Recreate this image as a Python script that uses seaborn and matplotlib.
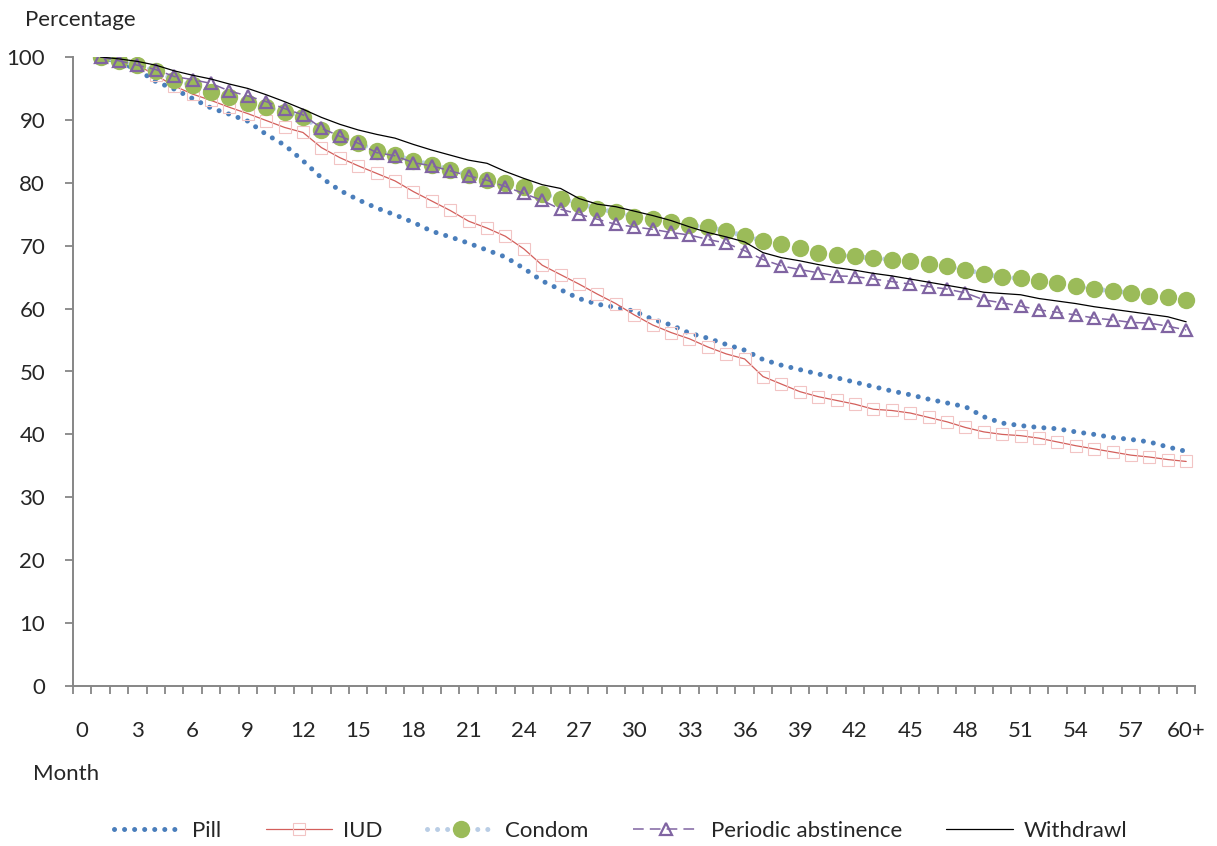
import numpy as np
import pandas as pd
import matplotlib
matplotlib.use("Agg")
import matplotlib.pyplot as plt
import seaborn as sns

months = list(range(1, 61))
tick_positions = list(range(0, 61, 3))
tick_labels = [str(t) for t in range(0, 60, 3)] + ["60+"]

pill = [100, 99.2, 98.0, 96.1, 94.9, 93.4, 91.9, 90.9, 89.8, 87.7,
        86.0, 83.5, 80.8, 78.8, 77.3, 76.0, 74.9, 73.7, 72.3, 71.4,
        70.4, 69.3, 68.2, 66.4, 64.4, 63.0, 61.6, 60.7, 60.2, 59.6,
        58.3, 57.4, 56.1, 55.3, 54.3, 53.4, 51.9, 51.0, 50.3, 49.6,
        49.0, 48.3, 47.6, 46.9, 46.3, 45.6, 45.0, 44.4, 42.8, 41.8,
        41.4, 41.1, 40.9, 40.4, 40.0, 39.5, 39.2, 38.8, 38.0, 37.3]
iud = [100, 99.5, 98.7, 97.1, 95.4, 94.1, 93.1, 92.0, 91.0, 89.9,
       88.8, 88.0, 85.6, 84.0, 82.7, 81.5, 80.3, 78.6, 77.1, 75.6,
       73.9, 72.8, 71.5, 69.5, 66.9, 65.4, 63.9, 62.3, 60.8, 59.0,
       57.4, 56.2, 55.2, 53.9, 52.8, 52.0, 49.2, 48.0, 46.8, 46.0,
       45.4, 44.8, 44.0, 43.8, 43.4, 42.7, 42.0, 41.1, 40.4, 40.0,
       39.8, 39.4, 38.8, 38.2, 37.7, 37.2, 36.7, 36.4, 36.0, 35.7]
condom = [100, 99.4, 98.7, 97.8, 96.3, 95.5, 94.4, 93.7, 92.7, 92.0,
          91.3, 90.5, 88.4, 87.3, 86.3, 85.1, 84.4, 83.5, 82.9, 82.1,
          81.2, 80.4, 80.0, 79.3, 78.2, 77.5, 76.7, 75.9, 75.3, 74.6,
          74.2, 73.7, 73.3, 72.9, 72.4, 71.5, 70.8, 70.3, 69.6, 68.9,
          68.5, 68.3, 68.0, 67.8, 67.5, 67.1, 66.7, 66.2, 65.5, 65.0,
          64.8, 64.4, 64.0, 63.6, 63.1, 62.8, 62.5, 62.0, 61.8, 61.3]
periodic = [100, 99.4, 98.7, 98.0, 96.9, 96.4, 95.8, 94.6, 93.8, 92.9,
            91.8, 90.8, 88.7, 87.4, 86.3, 84.8, 84.3, 83.2, 82.7, 81.9,
            81.1, 80.4, 79.4, 78.3, 77.2, 75.8, 75.0, 74.2, 73.4, 73.0,
            72.6, 72.1, 71.7, 71.0, 70.4, 69.2, 67.8, 66.8, 66.2, 65.7,
            65.2, 65.1, 64.7, 64.3, 63.9, 63.5, 63.1, 62.5, 61.4, 60.9,
            60.4, 59.8, 59.4, 59.0, 58.5, 58.2, 57.8, 57.7, 57.2, 56.6]
withdrawal = [100, 99.7, 99.3, 98.7, 97.8, 97.1, 96.5, 95.7, 95.0, 94.0,
              92.9, 91.7, 90.4, 89.3, 88.4, 87.7, 87.1, 86.1, 85.2, 84.4,
              83.6, 83.1, 81.8, 80.7, 79.7, 79.1, 77.5, 76.6, 76.2, 75.5,
              74.8, 74.0, 73.0, 72.1, 71.4, 70.6, 68.9, 68.1, 67.6, 67.0,
              66.5, 66.1, 65.6, 65.2, 64.7, 64.2, 63.7, 63.2, 62.6, 62.4,
              62.2, 61.6, 61.2, 60.8, 60.3, 59.9, 59.5, 59.1, 58.7, 57.9]

sns.set_style("white")
plt.rcParams["font.family"] = ["Lato", "DejaVu Sans"]
plt.rcParams["font.size"] = 16

W, H = 1217, 846
fig = plt.figure(figsize=(W / 100, H / 100), dpi=100)
ax = fig.add_axes([73 / W, 160 / H, 1122.4 / W, 629 / H])

sns.lineplot(x=months, y=pill, ax=ax, color="#4A7EBB", linewidth=3.6,
             linestyle=(0, (0.01, 2)), dash_capstyle="round", label="Pill")
sns.lineplot(x=months, y=iud, ax=ax, color="#D35F5B", linewidth=0.9,
             marker="s", markersize=8, markerfacecolor="none",
             markeredgecolor="#F2C4C4", markeredgewidth=0.8, label="IUD")
sns.lineplot(x=months, y=condom, ax=ax, color="#B9CDE5", linewidth=3.6,
             linestyle=(0, (0.01, 2)), dash_capstyle="round",
             marker="o", markersize=12.5, markerfacecolor="#9BBB59",
             markeredgecolor="#9BBB59", markeredgewidth=0, label="Condom")
sns.lineplot(x=months, y=periodic, ax=ax, color="#8064A2", linewidth=1.1,
             linestyle=(0, (7, 4)), marker="^", markersize=9,
             markerfacecolor="none", markeredgecolor="#8064A2",
             markeredgewidth=1.6, label="Periodic abstinence")
sns.lineplot(x=months, y=withdrawal, ax=ax, color="black", linewidth=0.9,
             label="Withdrawl")

ax.set_xlim(-0.5, 60.5)
ax.set_ylim(0, 100)
ax.set_yticks(range(0, 101, 10))
ax.set_xticks(tick_positions)
ax.set_xticklabels(tick_labels)
ax.set_xticks(np.arange(-0.5, 61, 1), minor=True)
ax.tick_params(axis="x", which="major", length=0, pad=25, labelsize=16)
ax.tick_params(axis="x", which="minor", length=6, width=1.3, color="#868686",
               direction="out", bottom=True)
ax.tick_params(axis="y", which="major", length=6, width=1.3, color="#868686",
               direction="out", left=True, pad=14, labelsize=16)
for s in ["top", "right"]:
    ax.spines[s].set_visible(False)
for s in ["left", "bottom"]:
    ax.spines[s].set_color("#868686")
    ax.spines[s].set_linewidth(1.4)
ax.set_xlabel("")
ax.set_ylabel("")

fig.text(25 / W, 1 - 20 / H, "Percentage", ha="left", va="center", fontsize=16)
fig.text(33 / W, 1 - 774 / H, "Month", ha="left", va="center", fontsize=16)

handles, labels = ax.get_legend_handles_labels()
ax.get_legend().remove()
fig.legend(handles, labels, loc="center", bbox_to_anchor=(621 / W, 1 - 831 / H),
           ncol=5, frameon=False, handlelength=3.0, handletextpad=0.5,
           columnspacing=2.0, numpoints=1, fontsize=16)

fig.savefig("out.png", dpi=100)
